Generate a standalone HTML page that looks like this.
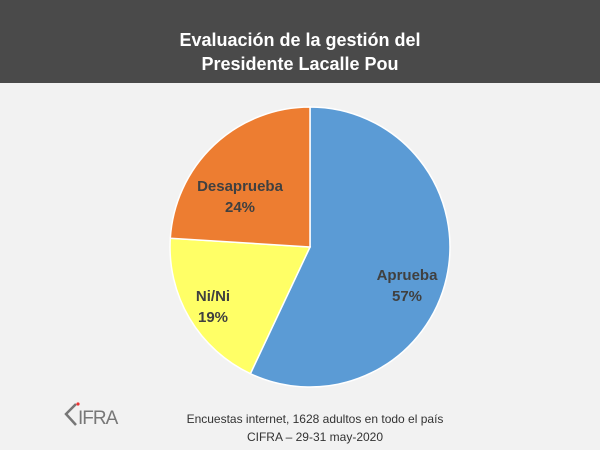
<!DOCTYPE html><html><head><style>
body{margin:0;width:600px;height:450px;background:#f2f2f2;font-family:"Liberation Sans",sans-serif;overflow:hidden;position:relative}
.h{position:absolute;left:0;top:0;width:600px;height:83px;background:#4a4a4a;color:#fff;font-weight:bold;font-size:18px;text-align:center;line-height:24px;padding-top:28px;box-sizing:border-box}
.f{position:absolute;left:165px;width:300px;top:410px;text-align:center;font-size:12px;color:#333;line-height:18px}
</style></head><body>
<div class="h">Evaluación de la gestión del<br>Presidente Lacalle Pou</div>
<svg width="600" height="450" style="position:absolute;left:0;top:0">
<path d="M310,247 L310,107 A140,140 0 1,1 250.4,373.7 Z" fill="#5b9bd5" stroke="#fff" stroke-width="1.5"/>
<path d="M310,247 L250.4,373.7 A140,140 0 0,1 170.3,238.2 Z" fill="#ffff66" stroke="#fff" stroke-width="1.5"/>
<path d="M310,247 L170.3,238.2 A140,140 0 0,1 310,107 Z" fill="#ed7d31" stroke="#fff" stroke-width="1.5"/>
<g font-weight="bold" font-size="15" fill="#404040" text-anchor="middle">
<text x="240" y="191">Desaprueba</text><text x="240" y="212">24%</text>
<text x="213" y="301">Ni/Ni</text><text x="213" y="322">19%</text>
<text x="407" y="280">Aprueba</text><text x="407" y="301">57%</text>
</g>
<g fill="none" stroke="#777" stroke-width="2.5"><path d="M76,404 L66,414 L76,425"/></g>
<circle cx="78" cy="404" r="1.6" fill="#e33"/>
<text x="78" y="424" font-size="19" fill="#777" font-family="Liberation Sans" letter-spacing="-1">IFRA</text>
</svg>
<div class="f">Encuestas internet, 1628 adultos en todo el país<br>CIFRA – 29-31 may-2020</div>
</body></html>
